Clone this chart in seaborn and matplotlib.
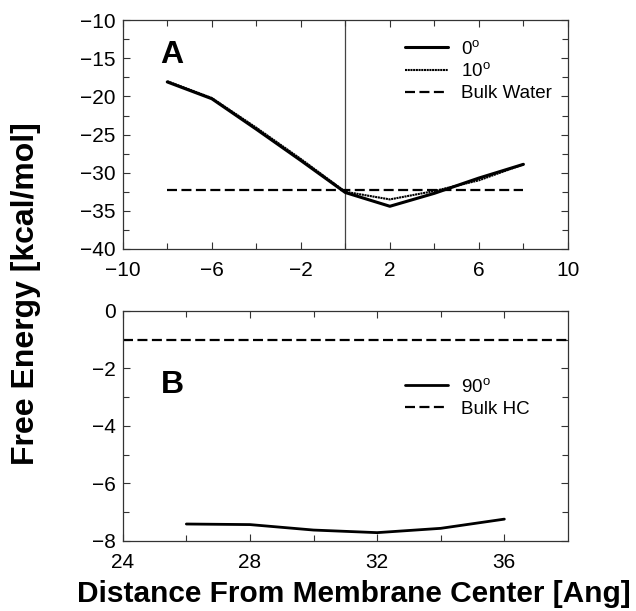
import numpy as np
import pandas as pd
import matplotlib
matplotlib.use("Agg")
import matplotlib.pyplot as plt
import seaborn as sns
from matplotlib.ticker import MultipleLocator, FixedLocator

# panel A: distance from center (Ang) and free energy (kcal/mol)
dist_a = [-8, -6, -4, -2, 0, 2, 4, 6, 8]
fe_0deg = [-18.1, -20.3, -24.3, -28.4, -32.6, -34.4, -32.7, -30.7, -28.9]
fe_10deg = [-18.0, -20.2, -24.1, -28.2, -32.5, -33.5, -32.4, -31.0, -28.9]
bulk_water = -32.3
xticks_a = [-10, -6, -2, 2, 6, 10]

# panel B
dist_b = [26, 28, 30, 32, 34, 36]
fe_90deg = [-7.41, -7.43, -7.62, -7.71, -7.56, -7.24]
bulk_hc = -1.0
xticks_b = [24, 28, 32, 36]

sns.set_style("ticks")
plt.rcParams["font.family"] = ["Liberation Sans", "DejaVu Sans"]
plt.rcParams["mathtext.fontset"] = "custom"
plt.rcParams["mathtext.rm"] = "Liberation Sans"
plt.rcParams["mathtext.it"] = "Liberation Sans"
plt.rcParams["text.color"] = "black"
plt.rcParams["xtick.color"] = "black"
plt.rcParams["ytick.color"] = "black"

fig = plt.figure(figsize=(6.36, 6.11), dpi=100)
ax1 = fig.add_axes([0.193, 0.5925, 0.70, 0.3745])
ax2 = fig.add_axes([0.193, 0.1146, 0.70, 0.3764])

df_a = pd.DataFrame({"dist": dist_a, "deg0": fe_0deg, "deg10": fe_10deg})
sns.lineplot(data=df_a, x="dist", y="deg0", ax=ax1, color="black", lw=2.2,
             label=r"0$^{\rm o}$")
sns.lineplot(data=df_a, x="dist", y="deg10", ax=ax1, color="black", lw=1.5,
             linestyle=(0, (1, 0.3)), label=r"10$^{\rm o}$")
ax1.plot([dist_a[0], dist_a[-1]], [bulk_water, bulk_water], color="black",
         lw=1.6, dashes=(4.5, 2), label="Bulk Water")
ax1.axvline(0, color="#444444", lw=0.9, zorder=0)

df_b = pd.DataFrame({"dist": dist_b, "deg90": fe_90deg})
sns.lineplot(data=df_b, x="dist", y="deg90", ax=ax2, color="black", lw=2.0,
             label=r"90$^{\rm o}$")
ax2.axhline(bulk_hc, color="black", lw=1.6, dashes=(4.5, 2), label="Bulk HC")

ax1.set_xlim(-10, 10)
ax1.set_ylim(-40, -10)
ax1.xaxis.set_major_locator(FixedLocator(xticks_a))
ax1.xaxis.set_minor_locator(FixedLocator([-8, -4, 0, 4, 8]))
ax1.yaxis.set_major_locator(MultipleLocator(5))
ax1.yaxis.set_minor_locator(MultipleLocator(2.5))

ax2.set_xlim(24, 38)
ax2.set_ylim(-8, 0)
ax2.xaxis.set_major_locator(FixedLocator(xticks_b))
ax2.xaxis.set_minor_locator(FixedLocator([26, 30, 34]))
ax2.yaxis.set_major_locator(MultipleLocator(2))
ax2.yaxis.set_minor_locator(MultipleLocator(1))

for ax in (ax1, ax2):
    ax.set_xlabel("")
    ax.set_ylabel("")
    for s in ax.spines.values():
        s.set_visible(True)
        s.set_linewidth(0.9)
        s.set_color("#333333")
    ax.tick_params(which="both", direction="in", top=True, right=True,
                   labelsize=15, color="#333333", labelcolor="black")
    ax.tick_params(which="major", length=5, width=0.8)
    ax.tick_params(which="minor", length=4, width=0.8)
    ax.tick_params(axis="x", pad=9)
    ax.tick_params(axis="y", pad=5)

ax1.legend(loc="upper left", bbox_to_anchor=(0.634, 0.915), frameon=False,
           fontsize=13.5, borderaxespad=0, borderpad=0, handlelength=2.3,
           handletextpad=0.7, labelspacing=0.25)
ax2.legend(loc="upper left", bbox_to_anchor=(0.634, 0.71), frameon=False,
           fontsize=13.5, borderaxespad=0, borderpad=0, handlelength=2.3,
           handletextpad=0.7, labelspacing=0.25)

ax1.text(-8.3, -15.6, "A", fontsize=23, fontweight="bold")
ax2.text(25.2, -2.85, "B", fontsize=23, fontweight="bold")

fig.text(0.041, 0.52, "Free Energy [kcal/mol]", rotation=90, fontsize=23,
         fontweight="bold", ha="center", va="center")
fig.text(0.557, 0.028, "Distance From Membrane Center [Ang]", fontsize=21.5,
         fontweight="bold", ha="center", va="center")

fig.savefig("out.png", dpi=100)
